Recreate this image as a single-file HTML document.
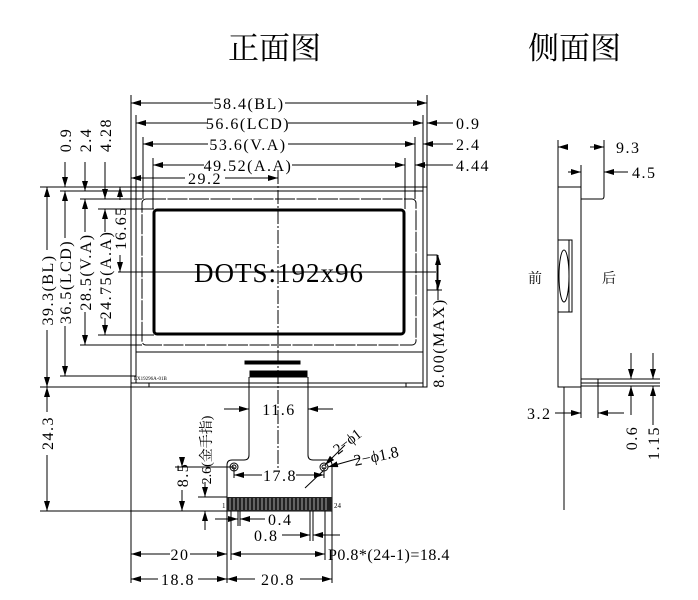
<!DOCTYPE html>
<html><head><meta charset="utf-8"><style>
html,body{margin:0;padding:0;background:#fff;}
svg{display:block;}
text{font-family:"Liberation Serif","Noto Serif CJK SC",serif;fill:#000;}
</style></head><body>
<svg width="698" height="600" viewBox="0 0 698 600" xmlns="http://www.w3.org/2000/svg">
<defs>
<marker id="a" viewBox="0 0 10 6" refX="10" refY="3" markerWidth="10" markerHeight="6" orient="auto" markerUnits="userSpaceOnUse"><path d="M0,0 L10,3 L0,6 z" fill="#000"/></marker>
</defs>
<text x="228" y="59" font-size="31" font-family="Noto Serif CJK SC,serif">正面图</text>
<text x="528" y="59" font-size="31" font-family="Noto Serif CJK SC,serif">侧面图</text>
<g stroke="#000" fill="none" stroke-width="1">
<rect x="131" y="187" width="296" height="200"/>
<rect x="136" y="191" width="287" height="192"/>
<line x1="136" y1="352" x2="423" y2="352"/>
<rect x="142" y="199" width="274" height="146" rx="4" stroke-dasharray="20,1.5"/>
<rect x="154" y="210" width="250" height="124" rx="3" stroke-width="3"/>
<rect x="131" y="383" width="18" height="4"/>
<rect x="406" y="383" width="17" height="4"/>
<line x1="278" y1="170" x2="278" y2="470" stroke-dasharray="14,2,2,2"/>
<line x1="118" y1="272" x2="436" y2="272"/>
<path d="M427,255 L437,255 L437,290 L427,290"/>
<rect x="245" y="361" width="55" height="3" fill="#000"/>
<rect x="250" y="371" width="57" height="6" fill="#000"/>
<line x1="131" y1="95" x2="131" y2="187"/><line x1="427" y1="95" x2="427" y2="187"/>
<line x1="136" y1="115" x2="136" y2="191"/><line x1="423" y1="115" x2="423" y2="191"/>
<line x1="143" y1="137" x2="143" y2="199"/><line x1="415" y1="137" x2="415" y2="199"/>
<line x1="153" y1="158" x2="153" y2="209"/><line x1="405" y1="158" x2="405" y2="209"/>
<line x1="213" y1="103" x2="131" y2="103" marker-end="url(#a)"/><line x1="285" y1="103" x2="427" y2="103" marker-end="url(#a)"/>
<line x1="208" y1="123" x2="136" y2="123" marker-end="url(#a)"/><line x1="288" y1="123" x2="423" y2="123" marker-end="url(#a)"/>
<line x1="453" y1="123" x2="427" y2="123" marker-end="url(#a)"/>
<line x1="208" y1="144" x2="143" y2="144" marker-end="url(#a)"/><line x1="288" y1="144" x2="415" y2="144" marker-end="url(#a)"/>
<line x1="453" y1="144" x2="423" y2="144" marker-end="url(#a)"/>
<line x1="204" y1="165" x2="153" y2="165" marker-end="url(#a)"/><line x1="292" y1="165" x2="405" y2="165" marker-end="url(#a)"/>
<line x1="453" y1="165" x2="415" y2="165" marker-end="url(#a)"/>
<line x1="185" y1="178" x2="131" y2="178" marker-end="url(#a)"/><line x1="225" y1="178" x2="278" y2="178" marker-end="url(#a)"/>
<line x1="40" y1="187" x2="131" y2="187"/>
<line x1="60" y1="191" x2="136" y2="191"/>
<line x1="80" y1="199" x2="142" y2="199"/>
<line x1="98" y1="209" x2="154" y2="209"/>
<line x1="80" y1="345" x2="142" y2="345"/>
<line x1="98" y1="335" x2="154" y2="335"/>
<line x1="60" y1="376" x2="136" y2="376"/>
<line x1="40" y1="387" x2="131" y2="387"/>
<line x1="65" y1="162" x2="65" y2="187" marker-end="url(#a)"/>
<line x1="85" y1="162" x2="85" y2="191" marker-end="url(#a)"/>
<line x1="105" y1="162" x2="105" y2="199" marker-end="url(#a)"/>
<line x1="47" y1="250" x2="47" y2="187" marker-end="url(#a)"/><line x1="47" y1="330" x2="47" y2="387" marker-end="url(#a)"/>
<line x1="65" y1="238" x2="65" y2="191" marker-end="url(#a)"/><line x1="65" y1="326" x2="65" y2="376" marker-end="url(#a)"/>
<line x1="85" y1="232" x2="85" y2="199" marker-end="url(#a)"/><line x1="85" y1="312" x2="85" y2="345" marker-end="url(#a)"/>
<line x1="105" y1="232" x2="105" y2="209" marker-end="url(#a)"/><line x1="105" y1="318" x2="105" y2="335" marker-end="url(#a)"/>
<line x1="120" y1="200" x2="120" y2="187" marker-end="url(#a)"/><line x1="120" y1="255" x2="120" y2="272" marker-end="url(#a)"/>
<line x1="118" y1="187" x2="131" y2="187"/>
<line x1="438" y1="300" x2="438" y2="255" marker-end="url(#a)"/>
<line x1="438" y1="255" x2="438" y2="290" marker-end="url(#a)"/>
<line x1="427" y1="290" x2="442" y2="290"/>
<line x1="249" y1="377" x2="249" y2="455"/>
<line x1="308" y1="377" x2="308" y2="455"/>
<path d="M249,455 Q249,460 244,460 L232,460 Q227,460 227,465 L227,511 L332,511 L332,465 Q332,460 327,460 L313,460 Q308,460 308,455"/>
<circle cx="234" cy="467" r="4"/><circle cx="234" cy="467" r="2"/>
<circle cx="324" cy="467" r="4"/><circle cx="324" cy="467" r="2"/>
<line x1="131" y1="387" x2="131" y2="583"/>
<line x1="47" y1="412" x2="47" y2="387" marker-end="url(#a)"/><line x1="47" y1="455" x2="47" y2="511" marker-end="url(#a)"/>
<line x1="40" y1="511" x2="227" y2="511"/>
<line x1="175" y1="467" x2="234" y2="467"/>
<line x1="182" y1="460" x2="182" y2="467" marker-end="url(#a)"/><line x1="182" y1="490" x2="182" y2="511" marker-end="url(#a)"/>
<line x1="198" y1="497" x2="227" y2="497"/>
<line x1="205" y1="482" x2="205" y2="497" marker-end="url(#a)"/>
<line x1="205" y1="530" x2="205" y2="511" marker-end="url(#a)"/>
<line x1="224" y1="409" x2="249" y2="409" marker-end="url(#a)"/>
<line x1="333" y1="409" x2="308" y2="409" marker-end="url(#a)"/>
<line x1="234" y1="467" x2="234" y2="478"/>
<line x1="324" y1="467" x2="324" y2="478"/>
<line x1="262" y1="475" x2="234" y2="475" marker-end="url(#a)"/>
<line x1="296" y1="475" x2="324" y2="475" marker-end="url(#a)"/>
<line x1="345" y1="445" x2="325" y2="465" marker-end="url(#a)"/>
<line x1="360" y1="458" x2="328" y2="467" marker-end="url(#a)"/>
<line x1="305" y1="488" x2="323" y2="471"/>
<line x1="227" y1="511" x2="227" y2="583"/>
<line x1="332" y1="511" x2="332" y2="583"/>
<line x1="231" y1="511" x2="231" y2="560"/>
<line x1="238" y1="511" x2="238" y2="526"/>
<line x1="240" y1="511" x2="240" y2="526"/>
<line x1="310" y1="511" x2="310" y2="541"/>
<line x1="313" y1="511" x2="313" y2="541"/>
<line x1="325" y1="511" x2="325" y2="560"/>
<line x1="215" y1="519" x2="238" y2="519" marker-end="url(#a)"/>
<line x1="265" y1="519" x2="240" y2="519" marker-end="url(#a)"/>
<line x1="282" y1="535" x2="310" y2="535" marker-end="url(#a)"/>
<line x1="340" y1="535" x2="313" y2="535" marker-end="url(#a)"/>
<line x1="170" y1="554" x2="131" y2="554" marker-end="url(#a)"/>
<line x1="190" y1="554" x2="227" y2="554" marker-end="url(#a)"/>
<line x1="260" y1="554" x2="231" y2="554" marker-end="url(#a)"/>
<line x1="260" y1="554" x2="325" y2="554" marker-end="url(#a)"/>
<line x1="158" y1="579" x2="131" y2="579" marker-end="url(#a)"/>
<line x1="198" y1="579" x2="227" y2="579" marker-end="url(#a)"/>
<line x1="255" y1="579" x2="227" y2="579" marker-end="url(#a)"/>
<line x1="300" y1="579" x2="332" y2="579" marker-end="url(#a)"/>
<rect x="558" y="187" width="23" height="200"/>
<path d="M581,187 L581,199 L602,199 Q604,199 604,196 L604,187"/>
<rect x="558" y="240" width="14" height="72"/>
<line x1="569" y1="240" x2="569" y2="312"/>
<ellipse cx="564" cy="276" rx="5" ry="26"/>
<line x1="564" y1="387" x2="564" y2="510"/>
<line x1="581" y1="379" x2="660" y2="379"/>
<line x1="581" y1="383" x2="660" y2="383"/>
<line x1="581" y1="386" x2="660" y2="386"/>
<line x1="558" y1="140" x2="558" y2="187"/>
<line x1="581" y1="165" x2="581" y2="187"/>
<line x1="604" y1="140" x2="604" y2="187"/>
<line x1="568" y1="147" x2="558" y2="147" marker-end="url(#a)"/>
<line x1="590" y1="147" x2="604" y2="147" marker-end="url(#a)"/>
<line x1="568" y1="172" x2="581" y2="172" marker-end="url(#a)"/>
<line x1="628" y1="172" x2="604" y2="172" marker-end="url(#a)"/>
<line x1="581" y1="387" x2="581" y2="418"/>
<line x1="598" y1="379" x2="598" y2="418"/>
<line x1="555" y1="413" x2="581" y2="413" marker-end="url(#a)"/>
<line x1="624" y1="413" x2="598" y2="413" marker-end="url(#a)"/>
<line x1="631" y1="353" x2="631" y2="379" marker-end="url(#a)"/>
<line x1="631" y1="415" x2="631" y2="386" marker-end="url(#a)"/>
<line x1="653" y1="353" x2="653" y2="379" marker-end="url(#a)"/>
<line x1="653" y1="425" x2="653" y2="386" marker-end="url(#a)"/>
</g>
<g font-size="16" letter-spacing="1.5">
<text x="249" y="109" text-anchor="middle">58.4(BL)</text>
<text x="248" y="129" text-anchor="middle">56.6(LCD)</text>
<text x="248" y="150" text-anchor="middle">53.6(V.A)</text>
<text x="248" y="171" text-anchor="middle">49.52(A.A)</text>
<text x="205" y="184" text-anchor="middle">29.2</text>
<text x="456" y="129">0.9</text>
<text x="456" y="150">2.4</text>
<text x="456" y="171">4.44</text>
<text x="279" y="282" font-size="27" letter-spacing="1" text-anchor="middle">DOTS:192x96</text>
<text transform="translate(71,140) rotate(-90)" text-anchor="middle">0.9</text>
<text transform="translate(91,140) rotate(-90)" text-anchor="middle">2.4</text>
<text transform="translate(111,135) rotate(-90)" text-anchor="middle">4.28</text>
<text transform="translate(53,290) rotate(-90)" text-anchor="middle">39.3(BL)</text>
<text transform="translate(71,282) rotate(-90)" text-anchor="middle">36.5(LCD)</text>
<text transform="translate(91,272) rotate(-90)" text-anchor="middle">28.5(V.A)</text>
<text transform="translate(111,275) rotate(-90)" text-anchor="middle">24.75(A.A)</text>
<text transform="translate(126,228) rotate(-90)" text-anchor="middle">16.65</text>
<text transform="translate(444,343) rotate(-90)" text-anchor="middle">8.00(MAX)</text>
<text transform="translate(53,433) rotate(-90)" text-anchor="middle">24.3</text>
<text transform="translate(188,475) rotate(-90)" text-anchor="middle">8.5</text>
<text transform="translate(211,450) rotate(-90)" text-anchor="middle" font-family="Liberation Sans,Noto Sans CJK SC,sans-serif" font-size="14" letter-spacing="0">2.6(金手指)</text>
<text x="279" y="415" text-anchor="middle">11.6</text>
<text x="280" y="481" text-anchor="middle">17.8</text>
<text transform="translate(338,455) rotate(-38)" font-family="Liberation Sans,sans-serif" font-size="15" letter-spacing="0">2−ϕ1</text>
<text transform="translate(355,466) rotate(-12)" font-family="Liberation Sans,sans-serif" font-size="16" letter-spacing="0">2−ϕ1.8</text>
<text x="268" y="525">0.4</text>
<text x="254" y="541">0.8</text>
<text x="180" y="560" text-anchor="middle">20</text>
<text x="328" y="560" letter-spacing="0.5">P0.8*(24-1)=18.4</text>
<text x="178" y="585" text-anchor="middle">18.8</text>
<text x="278" y="585" text-anchor="middle">20.8</text>
<text x="222" y="508" font-size="7" letter-spacing="0">1</text>
<text x="334" y="508" font-size="7" letter-spacing="0">24</text>
<text x="134" y="380" font-size="5" letter-spacing="0">LX19296A-01B</text>
<text x="616" y="153">9.3</text>
<text x="632" y="178">4.5</text>
<text x="527" y="419">3.2</text>
<text transform="translate(637,438) rotate(-90)" text-anchor="middle">0.6</text>
<text transform="translate(659,443) rotate(-90)" text-anchor="middle">1.15</text>
<text x="528" y="283" font-family="Noto Serif CJK SC,serif" font-size="14" letter-spacing="0">前</text>
<text x="602" y="283" font-family="Noto Serif CJK SC,serif" font-size="14" letter-spacing="0">后</text>
</g>
<rect x="227" y="497" width="105" height="14" fill="#222"/>
<g stroke="#fff" stroke-width="0.6">
<path d="M230,498v12M234,498v12M238,498v12M242,498v12M246,498v12M250,498v12M254,498v12M258,498v12M262,498v12M266,498v12M270,498v12M274,498v12M278,498v12M282,498v12M286,498v12M290,498v12M294,498v12M298,498v12M302,498v12M306,498v12M310,498v12M314,498v12M318,498v12M322,498v12M326,498v12"/>
</g>
</svg>
</body></html>
